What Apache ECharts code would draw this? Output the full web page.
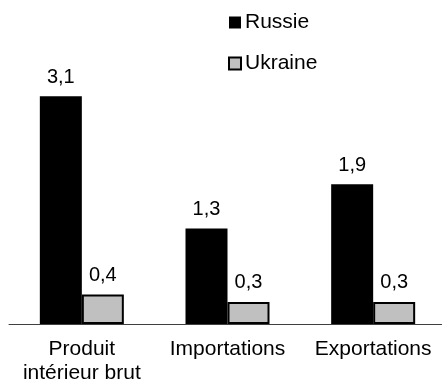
<!DOCTYPE html>
<html>
<head>
<meta charset="utf-8">
<script src="https://cdn.jsdelivr.net/npm/echarts@6/dist/echarts.min.js"></script>
<style>
html,body{margin:0;padding:0;background:#fff;}
#c{width:442px;height:382px;}
</style>
</head>
<body>
<div id="c"></div>
<script>
var categories = ['Produit\nintérieur brut', 'Importations', 'Exportations'];
var russie = [3.1, 1.3, 1.9];
var ukraine = [0.4, 0.3, 0.3];
var seriesNames = ['Russie', 'Ukraine'];

var FONT = '"Liberation Sans", Arial, sans-serif';
function fmt(p) { return String(p.value).replace('.', ','); }

var chart = echarts.init(document.getElementById('c'), null, {renderer: 'canvas'});
chart.setOption({
  animation: false,
  backgroundColor: '#ffffff',
  textStyle: {fontFamily: FONT, color: '#000'},
  legend: {
    orient: 'vertical',
    left: 228,
    top: 12,
    padding: 0,
    itemWidth: 12,
    itemHeight: 12,
    itemGap: 20,
    icon: 'rect',
    textStyle: {fontFamily: FONT, fontSize: 21, color: '#000', padding: [0, 0, 0, -1]},
    data: seriesNames
  },
  grid: {left: 9, width: 437, top: 30, height: 294, outerBoundsMode: 'none', containLabel: false},
  xAxis: {
    type: 'category',
    data: categories,
    axisLine: {lineStyle: {color: '#404040', width: 1}},
    axisTick: {show: false},
    axisLabel: {fontFamily: FONT, fontSize: 21, color: '#000', margin: 13, lineHeight: 24, interval: 0}
  },
  yAxis: {type: 'value', min: 0, max: 4, show: false, splitLine: {show: false}},
  series: [
    {
      name: seriesNames[0], type: 'bar', data: russie, barWidth: 42, barGap: '0%',
      itemStyle: {color: '#000000'},
      label: {show: true, position: 'top', distance: 9, formatter: fmt, fontFamily: FONT, fontSize: 20, color: '#000'}
    },
    {
      name: seriesNames[1], type: 'bar', data: ukraine, barWidth: 42,
      itemStyle: {color: '#c0c0c0', borderColor: '#000', borderWidth: 2},
      label: {show: true, position: 'top', distance: 9, formatter: fmt, fontFamily: FONT, fontSize: 20, color: '#000'}
    }
  ]
});
</script>
</body>
</html>
